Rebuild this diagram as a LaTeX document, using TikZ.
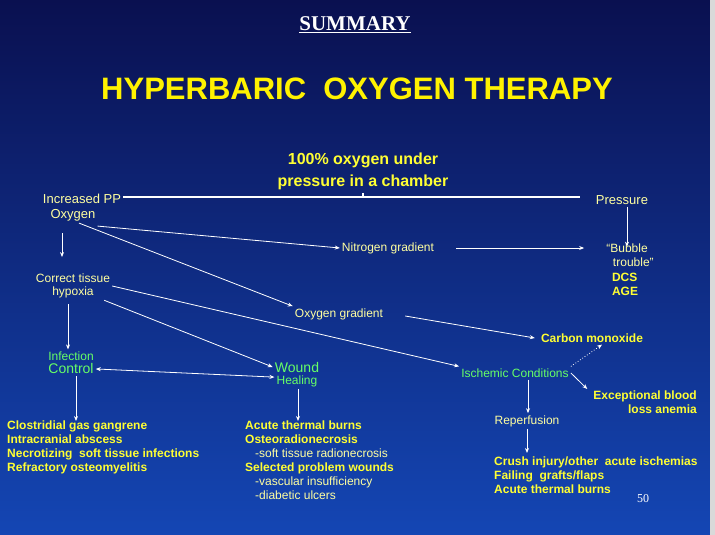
\documentclass[tikz,border=0pt]{standalone}
\usepackage{fontspec}
\setmainfont{Liberation Sans}
\newfontfamily\slidetitle{Liberation Serif}
\usetikzlibrary{positioning,arrows.meta}
\definecolor{bgtop}{HTML}{0A1050}
\definecolor{bgbot}{HTML}{1446B4}
\definecolor{paleyel}{HTML}{FFFFA0}
\definecolor{brightyel}{HTML}{FFFF33}
\definecolor{litegreen}{HTML}{66FF66}
\tikzset{
  lbl/.style={text=paleyel, font=\fontsize{12}{13}\selectfont, align=center, inner sep=2pt},
  bold/.style={text=brightyel, font=\fontsize{12}{14}\selectfont\bfseries, inner sep=2pt},
  grn/.style={text=litegreen, font=\fontsize{12}{13}\selectfont, align=center, inner sep=2pt},
  arr/.style={white, -{Stealth[length=5pt,width=4pt]}, line width=0.8pt}
}
\begin{document}
\begin{tikzpicture}[x=1pt,y=-1pt]
   \shade[top color=bgtop, bottom color=bgbot] (0,0) rectangle (715,535);
   \useasboundingbox (0,0) rectangle (715,535);
   \fill[gray!30] (710,0) rectangle (715,535);
          % headings
   \node (summ) at (355,25) {\slidetitle\fontsize{21}{22}\selectfont\bfseries\color{white}\underline{SUMMARY}};
   \node (hbo) at (357,89) {\fontsize{31}{33}\selectfont\bfseries\color{yellow}HYPERBARIC\ \ OXYGEN THERAPY};
   \node[align=center, text=brightyel, font=\fontsize{16}{22}\selectfont\bfseries] (ox) at (363,171) {100\% oxygen under\\pressure in a chamber};
          % top level
   \node[lbl, font=\fontsize{13}{16}\selectfont] (ppa) at (82,199) {Increased PP};
   \node[lbl, font=\fontsize{13}{16}\selectfont] (ppb) at (73,215) {Oxygen};
   \node[lbl, font=\fontsize{13}{16}\selectfont] (pres) at (622,200) {Pressure};
   \draw[white, line width=1.2pt] (ppa.east |- 0,197) coordinate (bl) -- (580,197) coordinate (br);
   \draw[white, line width=1.2pt] (ox.south) -- (ox.south |- bl);
          % branches
   \node[lbl] (ng) at (388,248) {Nitrogen gradient};
   \node[lbl, align=left, font=\fontsize{12}{13.5}\selectfont] (bub) at (630,255) {``Bubble\\\ \ trouble''};
   \node[bold, align=left, font=\fontsize{12}{14}\selectfont\bfseries] (dcs) at (625,284) {DCS\\AGE};
   \node[lbl] (cth) at (73,286) {Correct tissue\\hypoxia};
   \node[lbl] (og) at (339,314) {Oxygen gradient};
   \node[bold] (co) at (592,338) {Carbon monoxide};
   \node[grn] (inf) at (71,356) {Infection};
   \node[grn, font=\fontsize{14}{15}\selectfont, below=-1pt of inf] (ctrl) {Control};
   \node[grn, font=\fontsize{14}{15}\selectfont] (wnd) at (297,367) {Wound};
   \node[grn, below=-1pt of wnd] (heal) {Healing};
   \node[grn] (isc) at (515,373) {Ischemic Conditions};
   \node[bold, align=right, anchor=north east] (eba) at (699,389) {Exceptional blood\\loss anemia};
   \node[lbl] (rep) at (527,421) {Reperfusion};
          % lists
   \node[bold, align=left, anchor=north west, inner sep=0pt] (lstinf) at (7,421) {Clostridial gas gangrene\\Intracranial abscess\\Necrotizing\ \ soft tissue infections\\Refractory osteomyelitis};
   \node[bold, align=left, anchor=north west, inner sep=0pt] (lstwh) at (245,421) {Acute thermal burns\\Osteoradionecrosis\\\ \ \ \mdseries\color{paleyel}-soft tissue radionecrosis\\Selected problem wounds\\\ \ \ \mdseries\color{paleyel}-vascular insufficiency\\\ \ \ \mdseries\color{paleyel}-diabetic ulcers};
   \node[bold, align=left, anchor=north west, inner sep=0pt] (lstrep) at (494,457) {Crush injury/other\ \ acute ischemias\\Failing\ \ grafts/flaps\\Acute thermal burns};
   \node[text=white, font=\slidetitle\fontsize{12}{13}\selectfont] (pg) at (643,499) {50};
          % connectors
   \draw[arr] (ppb.south -| 62,0) ++(0,10) -- ++(0,24);
   \draw[arr] ([yshift=-3pt]ppb.south east) -- (ng.west);
   \draw[arr] ([xshift=6pt]ppb.south) -- (og.north west);
   \draw[arr] (ng.east) ++(20,0) -- ([xshift=-20pt]bub.west |- ng.east);
   \draw[arr] (pres.south -| 627,0) -- ([yshift=-5pt]bub.north -| 627,0);
   \draw[arr] (cth.south -| 68,0) ++(0,4) -- (inf.north -| 68,0);
   \draw[arr] ([xshift=-8pt]cth.south east) -- (wnd.west);
   \draw[arr] (cth.east) -- (isc.north west);
   \draw[arr] (og.east) ++(20,2) -- ([xshift=-4pt]co.west);
   \draw[arr, {Stealth[length=5pt,width=4pt]}-{Stealth[length=5pt,width=4pt]}] (ctrl.east) -- ([yshift=4pt]heal.west);
   \draw[arr, dotted] (isc.north east) -- ([xshift=10pt]co.south);
   \draw[arr] (isc.east) -- ([xshift=-4pt]eba.north west);
   \draw[arr] (ctrl.south -| 76,0) -- (lstinf.north -| 76,0);
   \draw[arr] (heal.south -| 298,0) -- (lstwh.north -| 298,0);
   \draw[arr] (isc.south -| 528,0) -- (rep.north -| 528,0);
   \draw[arr] (rep.south -| 527,0) -- ([yshift=4pt]lstrep.north -| 527,0);
\end{tikzpicture}
\end{document}
